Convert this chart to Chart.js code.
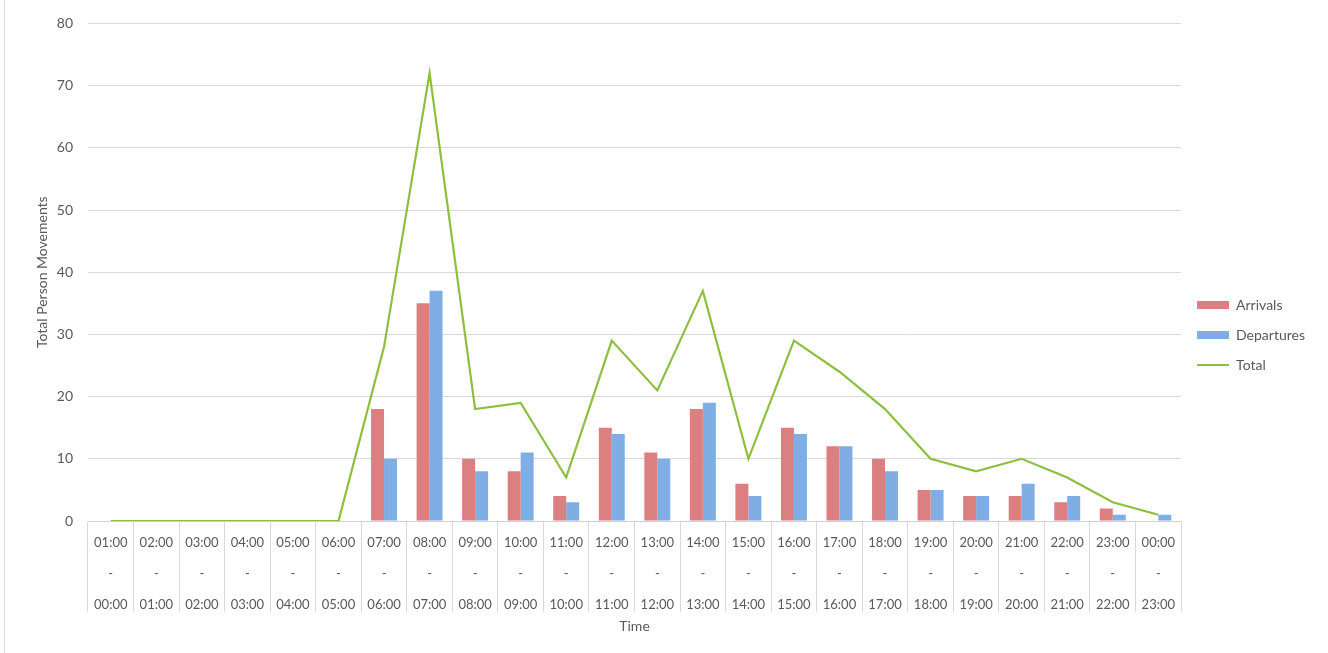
<!DOCTYPE html>
<html>
<head>
<meta charset="utf-8">
<script src="https://cdn.jsdelivr.net/npm/chart.js@4/dist/chart.umd.min.js"></script>
<style>
  html, body { margin: 0; padding: 0; background: #ffffff; }
  #wrap { position: relative; width: 1328px; height: 653px; }
  #frame { position: absolute; left: 4px; top: 0; width: 1px; height: 653px; background: #d9d9d9; }
  canvas { position: absolute; left: 0; top: 0; }
</style>
</head>
<body>
<div id="wrap">
  <div id="frame"></div>
  <canvas id="c" width="1328" height="653"></canvas>
</div>
<script>
const startHours = ["01:00","02:00","03:00","04:00","05:00","06:00","07:00","08:00","09:00","10:00","11:00","12:00",
                    "13:00","14:00","15:00","16:00","17:00","18:00","19:00","20:00","21:00","22:00","23:00","00:00"];
const endHours   = ["00:00","01:00","02:00","03:00","04:00","05:00","06:00","07:00","08:00","09:00","10:00","11:00",
                    "12:00","13:00","14:00","15:00","16:00","17:00","18:00","19:00","20:00","21:00","22:00","23:00"];
const categories = startHours.map((s, i) => [s, "-", endHours[i]]);

const arrivals   = [0,0,0,0,0,0,18,35,10,8,4,15,11,18,6,15,12,10,5,4,4,3,2,0];
const departures = [0,0,0,0,0,0,10,37,8,11,3,14,10,19,4,14,12,8,5,4,6,4,1,1];
const total      = [0,0,0,0,0,0,28,72,18,19,7,29,21,37,10,29,24,18,10,8,10,7,3,1];

const yTicks = [0,10,20,30,40,50,60,70,80];

const FONT = "Lato, 'Open Sans', sans-serif";
const GREY_TEXT = "#595959";

new Chart(document.getElementById('c'), {
  type: 'bar',
  data: {
    labels: categories,
    datasets: [
      { type: 'bar', label: 'Arrivals', data: arrivals, backgroundColor: '#dc7f81', borderWidth: 0,
        categoryPercentage: 0.57, barPercentage: 1.0, order: 2, pointStyle: 'rect' },
      { type: 'bar', label: 'Departures', data: departures, backgroundColor: '#7eaee3', borderWidth: 0,
        categoryPercentage: 0.57, barPercentage: 1.0, order: 2, pointStyle: 'rect' },
      { type: 'line', label: 'Total', data: total, borderColor: '#8dbf3e', backgroundColor: '#8dbf3e',
        borderWidth: 2.2, pointRadius: 0, pointHoverRadius: 0, tension: 0, fill: false, order: 0, pointStyle: 'line' }
    ]
  },
  options: {
    responsive: false,
    animation: false,
    layout: { padding: { left: 34, top: 22, right: 13, bottom: 18 } },
    plugins: {
      tooltip: { enabled: false },
      legend: {
        position: 'right',
        align: 'center',
        title: { display: true, text: '', font: { size: 1, lineHeight: 1 }, padding: { top: 12, bottom: 0 } },
        labels: {
          usePointStyle: true,
          pointStyleWidth: 32,
          boxHeight: 8,
          padding: 16,
          color: GREY_TEXT,
          font: { family: FONT, size: 14 },
          sort: (a, b) => a.datasetIndex - b.datasetIndex
        }
      }
    },
    scales: {
      x: {
        offset: true,
        afterFit: (scale) => { scale.height = 114; },
        grid: { offset: true, drawOnChartArea: false, drawTicks: true, tickLength: 91, color: '#d9d9d9' },
        border: { display: true, color: '#d0d0d0', width: 1 },
        ticks: {
          color: GREY_TEXT, padding: -85, maxRotation: 0, autoSkip: false,
          font: { family: FONT, size: 13, lineHeight: 2.4 }
        },
        title: { display: true, text: 'Time', color: GREY_TEXT, font: { family: FONT, size: 14 }, padding: { top: 0, bottom: 0 } }
      },
      y: {
        min: 0, max: 80,
        afterFit: (scale) => { scale.width = 54; },
        afterBuildTicks: (axis) => { axis.ticks = yTicks.map(v => ({ value: v })); },
        grid: { color: '#d9d9d9', drawTicks: false },
        border: { display: false },
        ticks: { color: GREY_TEXT, padding: 15, font: { family: FONT, size: 14 } },
        title: { display: true, text: 'Total Person Movements', color: GREY_TEXT, font: { family: FONT, size: 14 }, padding: { top: 0, bottom: 4 } }
      }
    }
  }
});
</script>
</body>
</html>
